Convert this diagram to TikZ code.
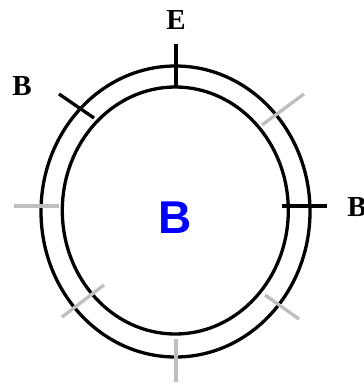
\documentclass[tikz,border=0pt]{standalone}
\usepackage{fontspec}
\setmainfont{Liberation Serif}
\newfontfamily\labsans{Liberation Sans}
\definecolor{tickgray}{RGB}{190,190,190}
\begin{document}
\begin{tikzpicture}[x=1pt,y=-1pt,
  ring/.style={draw=black,line width=3.3pt},
  blacktick/.style={draw=black,line width=3.3pt},
  graytick/.style={draw=tickgray,line width=3.3pt},
  serlabel/.style={font=\fontsize{29}{29}\selectfont\bfseries,inner sep=0pt},
  biglabel/.style={font=\labsans\fontsize{46}{46}\selectfont\bfseries,text=blue,inner sep=0pt}]
\useasboundingbox (0,0) rectangle (363,387);
\clip (0,0) rectangle (363,387);
% rings
\draw[ring] (175.5,211.5) ellipse [x radius=134.5, y radius=145.5];
\draw[ring] (175.3,210.5) ellipse [x radius=113, y radius=123.5];
% black ticks
\coordinate (e1) at (176,44);  \coordinate (e2) at (176,87);
\coordinate (bl1) at (59,94);  \coordinate (bl2) at (94,118);
\coordinate (br1) at (282,206); \coordinate (br2) at (327,206);
\draw[blacktick] (e1) -- (e2);
\draw[blacktick] (bl1) -- (bl2);
\draw[blacktick] (br1) -- (br2);
% gray ticks
\coordinate (g1a) at (262,125); \coordinate (g1b) at (304,94);
\coordinate (g2a) at (14,206);  \coordinate (g2b) at (59,206);
\coordinate (g3a) at (62,317);  \coordinate (g3b) at (104,285);
\coordinate (g4a) at (265,295); \coordinate (g4b) at (299,319);
\coordinate (g5a) at (176,339); \coordinate (g5b) at (176,382);
\draw[graytick] (g1a) -- (g1b);
\draw[graytick] (g2a) -- (g2b);
\draw[graytick] (g3a) -- (g3b);
\draw[graytick] (g4a) -- (g4b);
\draw[graytick] (g5a) -- (g5b);
% labels
\node[serlabel] (labE) at (176,20) {E};
\node[serlabel] (labBL) at (22,86.5) {B};
\node[serlabel] (labBR) at (357,207.5) {B};
\node[biglabel] (center) at (175,218) {B};
\end{tikzpicture}
\end{document}
